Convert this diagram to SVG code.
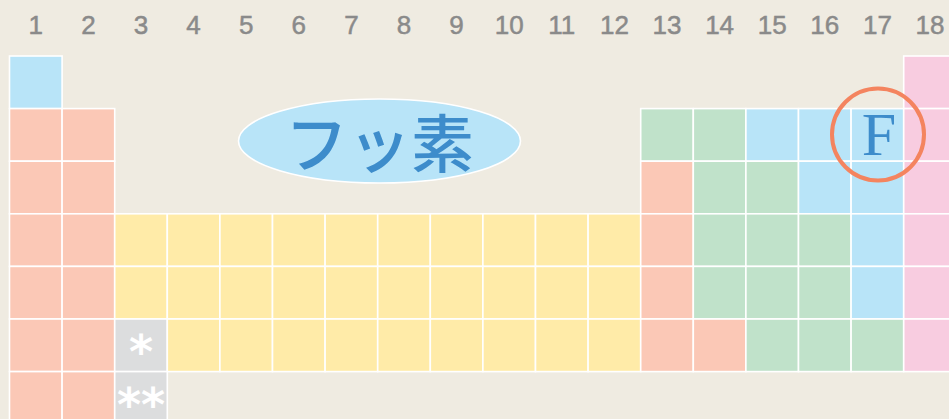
<svg xmlns="http://www.w3.org/2000/svg" width="949" height="419" viewBox="0 0 949 419">
<style>
.c{stroke:#ffffff;stroke-width:1.6}
.b{fill:#B8E4F8}.s{fill:#FBC8B6}.y{fill:#FFEBA8}.g{fill:#C0E2CA}.p{fill:#F8CCE0}.k{fill:#DCDDDE}
.hd{font-family:"Liberation Sans",Arial,sans-serif;font-size:26px;fill:#8A8A8A;stroke:#8A8A8A;stroke-width:0.5;text-anchor:middle}
.ast{font-family:"DejaVu Sans",sans-serif;font-weight:bold;font-size:46px;fill:#ffffff;text-anchor:middle}
</style>
<rect width="949" height="419" fill="#EFEBE1"/>
<g id="headers" class="hd">
<text x="35.8" y="34">1</text><text x="88.4" y="34">2</text><text x="141" y="34">3</text><text x="193.6" y="34">4</text><text x="246.2" y="34">5</text><text x="298.8" y="34">6</text><text x="351.4" y="34">7</text><text x="404" y="34">8</text><text x="456.6" y="34">9</text><text x="509.2" y="34">10</text><text x="561.8" y="34">11</text><text x="614.4" y="34">12</text><text x="667" y="34">13</text><text x="719.6" y="34">14</text><text x="772.2" y="34">15</text><text x="824.8" y="34">16</text><text x="877.4" y="34">17</text><text x="930" y="34">18</text>
</g>
<g id="row1">
<rect class="c b" x="9.5" y="56" width="52.6" height="52.6"/>
<rect class="c p" x="903.7" y="56" width="52.6" height="52.6"/>
</g>
<g id="row2">
<rect class="c s" x="9.5" y="108.6" width="52.6" height="52.6"/>
<rect class="c s" x="62.1" y="108.6" width="52.6" height="52.6"/>
<rect class="c g" x="640.7" y="108.6" width="52.6" height="52.6"/>
<rect class="c g" x="693.3" y="108.6" width="52.6" height="52.6"/>
<rect class="c b" x="745.9" y="108.6" width="52.6" height="52.6"/>
<rect class="c b" x="798.5" y="108.6" width="52.6" height="52.6"/>
<rect class="c b" x="851.1" y="108.6" width="52.6" height="52.6"/>
<rect class="c p" x="903.7" y="108.6" width="52.6" height="52.6"/>
</g>
<g id="row3">
<rect class="c s" x="9.5" y="161.2" width="52.6" height="52.6"/>
<rect class="c s" x="62.1" y="161.2" width="52.6" height="52.6"/>
<rect class="c s" x="640.7" y="161.2" width="52.6" height="52.6"/>
<rect class="c g" x="693.3" y="161.2" width="52.6" height="52.6"/>
<rect class="c g" x="745.9" y="161.2" width="52.6" height="52.6"/>
<rect class="c b" x="798.5" y="161.2" width="52.6" height="52.6"/>
<rect class="c b" x="851.1" y="161.2" width="52.6" height="52.6"/>
<rect class="c p" x="903.7" y="161.2" width="52.6" height="52.6"/>
</g>
<g id="row4">
<rect class="c s" x="9.5" y="213.8" width="52.6" height="52.6"/>
<rect class="c s" x="62.1" y="213.8" width="52.6" height="52.6"/>
<rect class="c y" x="114.7" y="213.8" width="52.6" height="52.6"/>
<rect class="c y" x="167.3" y="213.8" width="52.6" height="52.6"/>
<rect class="c y" x="219.9" y="213.8" width="52.6" height="52.6"/>
<rect class="c y" x="272.5" y="213.8" width="52.6" height="52.6"/>
<rect class="c y" x="325.1" y="213.8" width="52.6" height="52.6"/>
<rect class="c y" x="377.7" y="213.8" width="52.6" height="52.6"/>
<rect class="c y" x="430.3" y="213.8" width="52.6" height="52.6"/>
<rect class="c y" x="482.9" y="213.8" width="52.6" height="52.6"/>
<rect class="c y" x="535.5" y="213.8" width="52.6" height="52.6"/>
<rect class="c y" x="588.1" y="213.8" width="52.6" height="52.6"/>
<rect class="c s" x="640.7" y="213.8" width="52.6" height="52.6"/>
<rect class="c g" x="693.3" y="213.8" width="52.6" height="52.6"/>
<rect class="c g" x="745.9" y="213.8" width="52.6" height="52.6"/>
<rect class="c g" x="798.5" y="213.8" width="52.6" height="52.6"/>
<rect class="c b" x="851.1" y="213.8" width="52.6" height="52.6"/>
<rect class="c p" x="903.7" y="213.8" width="52.6" height="52.6"/>
</g>
<g id="row5">
<rect class="c s" x="9.5" y="266.4" width="52.6" height="52.6"/>
<rect class="c s" x="62.1" y="266.4" width="52.6" height="52.6"/>
<rect class="c y" x="114.7" y="266.4" width="52.6" height="52.6"/>
<rect class="c y" x="167.3" y="266.4" width="52.6" height="52.6"/>
<rect class="c y" x="219.9" y="266.4" width="52.6" height="52.6"/>
<rect class="c y" x="272.5" y="266.4" width="52.6" height="52.6"/>
<rect class="c y" x="325.1" y="266.4" width="52.6" height="52.6"/>
<rect class="c y" x="377.7" y="266.4" width="52.6" height="52.6"/>
<rect class="c y" x="430.3" y="266.4" width="52.6" height="52.6"/>
<rect class="c y" x="482.9" y="266.4" width="52.6" height="52.6"/>
<rect class="c y" x="535.5" y="266.4" width="52.6" height="52.6"/>
<rect class="c y" x="588.1" y="266.4" width="52.6" height="52.6"/>
<rect class="c s" x="640.7" y="266.4" width="52.6" height="52.6"/>
<rect class="c g" x="693.3" y="266.4" width="52.6" height="52.6"/>
<rect class="c g" x="745.9" y="266.4" width="52.6" height="52.6"/>
<rect class="c g" x="798.5" y="266.4" width="52.6" height="52.6"/>
<rect class="c b" x="851.1" y="266.4" width="52.6" height="52.6"/>
<rect class="c p" x="903.7" y="266.4" width="52.6" height="52.6"/>
</g>
<g id="row6">
<rect class="c s" x="9.5" y="319" width="52.6" height="52.6"/>
<rect class="c s" x="62.1" y="319" width="52.6" height="52.6"/>
<rect class="c k" x="114.7" y="319" width="52.6" height="52.6"/>
<rect class="c y" x="167.3" y="319" width="52.6" height="52.6"/>
<rect class="c y" x="219.9" y="319" width="52.6" height="52.6"/>
<rect class="c y" x="272.5" y="319" width="52.6" height="52.6"/>
<rect class="c y" x="325.1" y="319" width="52.6" height="52.6"/>
<rect class="c y" x="377.7" y="319" width="52.6" height="52.6"/>
<rect class="c y" x="430.3" y="319" width="52.6" height="52.6"/>
<rect class="c y" x="482.9" y="319" width="52.6" height="52.6"/>
<rect class="c y" x="535.5" y="319" width="52.6" height="52.6"/>
<rect class="c y" x="588.1" y="319" width="52.6" height="52.6"/>
<rect class="c s" x="640.7" y="319" width="52.6" height="52.6"/>
<rect class="c s" x="693.3" y="319" width="52.6" height="52.6"/>
<rect class="c g" x="745.9" y="319" width="52.6" height="52.6"/>
<rect class="c g" x="798.5" y="319" width="52.6" height="52.6"/>
<rect class="c g" x="851.1" y="319" width="52.6" height="52.6"/>
<rect class="c p" x="903.7" y="319" width="52.6" height="52.6"/>
<text class="ast" x="141" y="368">*</text>
</g>
<g id="row7">
<rect class="c s" x="9.5" y="371.6" width="52.6" height="52.6"/>
<rect class="c s" x="62.1" y="371.6" width="52.6" height="52.6"/>
<rect class="c k" x="114.7" y="371.6" width="52.6" height="52.6"/>
<text class="ast" x="141" y="421">**</text>
</g>
<g id="label">
<ellipse cx="379.5" cy="141" rx="141" ry="42" fill="#B8E4F8" stroke="#ffffff" stroke-width="1.6"/>
<text x="379.5" y="167" font-family="'Noto Sans CJK JP',sans-serif" font-size="63" font-weight="500" fill="#3D8CCB" text-anchor="middle">フッ素</text>
</g>
<g id="fluorine">
<text x="879" y="155" font-family="'Liberation Serif','Times New Roman',serif" font-size="62" fill="#3D8CCB" text-anchor="middle">F</text>
<circle cx="878" cy="134.5" r="46" fill="none" stroke="#F4845F" stroke-width="4"/>
</g>
</svg>
